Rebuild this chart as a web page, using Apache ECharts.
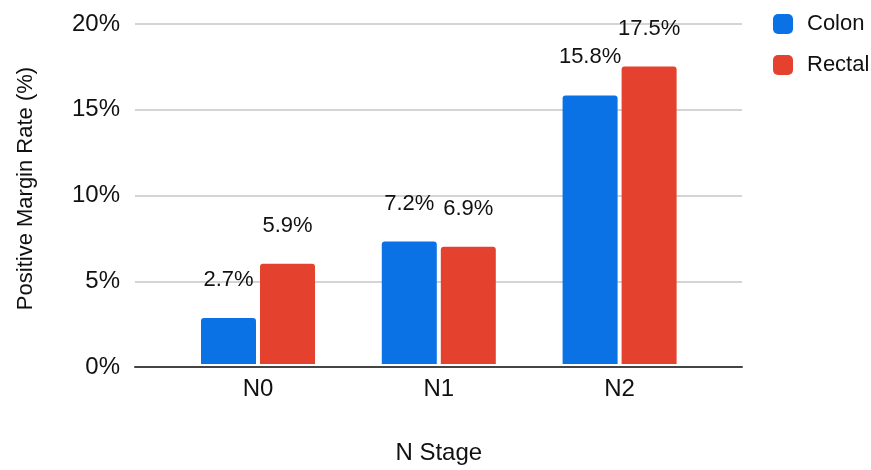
<!DOCTYPE html>
<html>
<head>
<meta charset="utf-8">
<script src="https://cdn.jsdelivr.net/npm/echarts@6/dist/echarts.min.js"></script>
<style>
  html, body { margin: 0; padding: 0; background: #fff; }
  #chart { width: 871px; height: 470px; }
</style>
</head>
<body>
<div id="chart"></div>
<script>
// N stage groups and positive margin rates (%)
const stages = ['N0', 'N1', 'N2'];
const colonRates = [2.7, 7.2, 15.8];
const rectalRates = [5.9, 6.9, 17.5];
const yTicks = { min: 0, max: 20, interval: 5 };

const FONT = '"Liberation Sans", Arial, sans-serif';
const TEXT = '#111111';

const pctLabel = {
  show: true,
  position: 'top',
  distance: 27,
  fontFamily: FONT,
  fontSize: 22,
  color: TEXT,
  formatter: p => p.value.toFixed(1) + '%'
};

const chart = echarts.init(document.getElementById('chart'), null, { renderer: 'canvas' });
chart.setOption({
  animation: false,
  backgroundColor: '#ffffff',
  textStyle: { fontFamily: FONT },
  legend: {
    orient: 'vertical',
    left: 773,
    top: 13,
    padding: 0,
    itemWidth: 20,
    itemHeight: 20,
    itemGap: 19,
    icon: 'roundRect',
    textStyle: { fontFamily: FONT, fontSize: 22, color: TEXT, padding: [0, 0, 0, 9] },
    data: ['Colon', 'Rectal']
  },
  grid: [
    // full-width grid carrying the value gridlines and the baseline
    { left: 135, right: 129, top: 24, bottom: 103 },
    // narrower grid holding the category bands and bars
    { left: 167.6, right: 161, top: 24, bottom: 103 }
  ],
  xAxis: [
    {
      gridIndex: 0,
      type: 'category',
      data: stages,
      axisLine: { show: true, lineStyle: { color: '#444', width: 2 } },
      axisTick: { show: false },
      axisLabel: { show: false }
    },
    {
      gridIndex: 1,
      type: 'category',
      data: stages,
      axisLine: { show: false },
      axisTick: { show: false },
      axisLabel: { fontFamily: FONT, fontSize: 24, color: TEXT, margin: 13 },
      name: 'N Stage',
      nameLocation: 'middle',
      nameGap: 77,
      nameTextStyle: { fontFamily: FONT, fontSize: 24, color: TEXT }
    }
  ],
  yAxis: [
    {
      gridIndex: 0,
      type: 'value',
      min: yTicks.min,
      max: yTicks.max,
      interval: yTicks.interval,
      axisLine: { show: false },
      axisTick: { show: false },
      splitLine: { show: true, lineStyle: { color: '#c6c6c6', width: 1.5 } },
      axisLabel: { fontFamily: FONT, fontSize: 24, color: TEXT, margin: 15, formatter: '{value}%' },
      name: 'Positive Margin Rate (%)',
      nameLocation: 'middle',
      nameGap: 98,
      nameTextStyle: { fontFamily: FONT, fontSize: 22, color: TEXT, padding: [0, 0, 0, 14] }
    },
    {
      gridIndex: 1,
      type: 'value',
      min: yTicks.min,
      max: yTicks.max,
      interval: yTicks.interval,
      show: false,
      splitLine: { show: false }
    }
  ],
  series: [
    {
      name: 'Colon',
      type: 'bar',
      xAxisIndex: 1,
      yAxisIndex: 1,
      data: colonRates,
      barWidth: 55,
      barGap: '7.3%',
      itemStyle: { color: '#0b72e6', borderRadius: [3, 3, 0, 0] },
      label: pctLabel
    },
    {
      name: 'Rectal',
      type: 'bar',
      xAxisIndex: 1,
      yAxisIndex: 1,
      data: rectalRates,
      barWidth: 55,
      barGap: '7.3%',
      itemStyle: { color: '#e5412f', borderRadius: [3, 3, 0, 0] },
      label: pctLabel
    }
  ]
});
</script>
</body>
</html>
